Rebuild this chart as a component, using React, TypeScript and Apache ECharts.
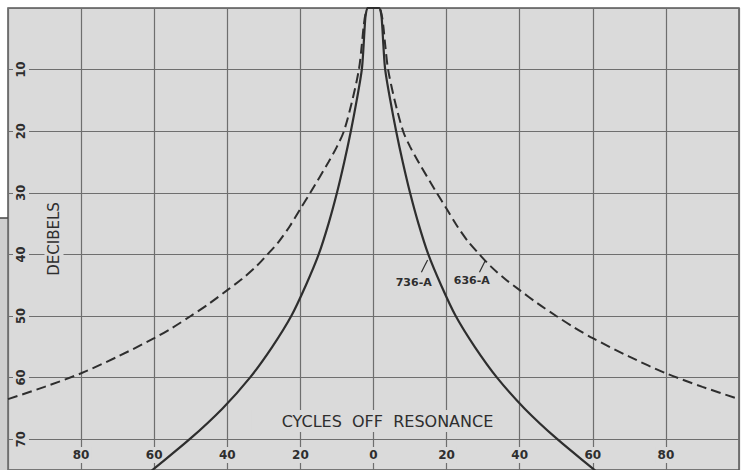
import React, { useEffect, useRef } from "react";
import * as echarts from "echarts";

// Cycles off resonance (x) and attenuation in decibels (y)
const solidX = [-62.5, -60.5, -50.3, -41.3, -33.8, -27.7, -22.5, -18.5, -15.0, -12.3, -10.0, -8.0, -6.2, -4.6, -3.2, -2.7, -2.4, -2.1, -1.5, 0, 1.5, 2.1, 2.4, 2.7, 3.2, 4.6, 6.2, 8.0, 10.0, 12.3, 15.0, 18.5, 22.5, 27.7, 33.8, 41.3, 50.3, 60.5, 62.5];
const solidDb = [76, 75, 70, 65, 60, 55, 50, 45, 40, 35, 30, 25, 20, 15, 10, 6, 3, 1, 0, 0, 0, 1, 3, 6, 10, 15, 20, 25, 30, 35, 40, 45, 50, 55, 60, 65, 70, 75, 76];

const dashedX = [-100, -90, -80, -70, -60, -55, -50, -45, -40, -36, -32, -29, -26, -23, -20, -17.3, -12.3, -10.0, -8.1, -5.8, -4.0, -3.2, -2.7, -2.2, -1.5, 0, 1.5, 2.2, 2.7, 3.2, 4.0, 5.8, 8.1, 10.0, 12.3, 17.3, 20, 23, 26, 29, 32, 36, 40, 45, 50, 55, 60, 70, 80, 90, 100];
const dashedDb = [63.5, 61.5, 59.3, 56.6, 53.6, 51.9, 50, 48, 45.8, 44, 41.9, 40, 38, 35.5, 32.6, 30, 25, 22.5, 20, 15, 10, 6, 3, 1, 0, 0, 0, 1, 3, 6, 10, 15, 20, 22.5, 25, 30, 32.6, 35.5, 38, 40, 41.9, 44, 45.8, 48, 50, 51.9, 53.6, 56.6, 59.3, 61.5, 63.5];

const seriesNames = ["736-A", "636-A"];

// annotation anchors (data coordinates): label centre, leader start, leader end
const label736 = { at: [11.0, 44.6], from: [13.1, 42.9], to: [14.8, 40.9] };
const label636 = { at: [26.9, 44.3], from: [29.0, 42.9], to: [30.6, 41.0] };

const BG = "#dadada";
const GRID = "#6e6e6e";
const INK = "#2e2e2e";
const FONT = "DejaVu Sans";

const zip = (xs: number[], ys: number[]) => xs.map((x, i) => [x, ys[i]]);

export default function App() {
  const ref = useRef<HTMLDivElement>(null);
  useEffect(() => {
    if (!ref.current) return;
    const chart = echarts.init(ref.current, undefined, { renderer: "svg" });
    const annot = (a: any, name: string) => ({
      markLine: {
        silent: true,
        symbol: ["none", "none"],
        label: { show: false },
        lineStyle: { color: INK, width: 1.2, type: "solid" },
        data: [[{ coord: a.from }, { coord: a.to }]],
      },
      markPoint: {
        silent: true,
        symbol: "rect",
        symbolSize: 1,
        itemStyle: { color: "rgba(0,0,0,0)" },
        label: {
          show: true,
          position: "inside",
          formatter: name,
          color: INK,
          fontFamily: FONT,
          fontWeight: "bold",
          fontSize: 11,
        },
        data: [{ coord: a.at }],
      },
    });
    chart.setOption({
      animation: false,
      backgroundColor: "#ffffff",
      grid: {
        left: 8,
        right: 2,
        top: 8,
        bottom: 0,
        containLabel: false,
        outerBoundsMode: "none",
        show: true,
        backgroundColor: BG,
        borderColor: "#555",
        borderWidth: 1.5,
      },
      xAxis: {
        type: "value",
        min: -100,
        max: 100,
        interval: 20,
        name: "CYCLES  OFF  RESONANCE",
        nameLocation: "middle",
        nameGap: -49,
        nameMoveOverlap: false,
        nameTextStyle: {
          color: INK,
          fontFamily: FONT,
          fontSize: 16,
          align: "center",
          verticalAlign: "middle",
          backgroundColor: BG,
          padding: [3, 2, 3, 30],
        },
        axisLine: { show: false },
        axisTick: { show: false },
        splitLine: { show: true, lineStyle: { color: GRID, width: 1.2 } },
        axisLabel: {
          inside: true,
          margin: 15,
          showMinLabel: false,
          showMaxLabel: false,
          formatter: (v: number) => String(Math.abs(v)),
          color: INK,
          fontFamily: FONT,
          fontWeight: "bold",
          fontSize: 12,
          verticalAlign: "middle",
          backgroundColor: BG,
          padding: [2, 2],
        },
      },
      yAxis: {
        type: "value",
        inverse: true,
        min: 0,
        max: 75,
        interval: 10,
        name: "DECIBELS",
        nameLocation: "middle",
        nameRotate: 90,
        nameGap: -46,
        nameMoveOverlap: false,
        nameTextStyle: {
          color: INK,
          fontFamily: FONT,
          fontSize: 15,
          align: "center",
          verticalAlign: "middle",
          backgroundColor: BG,
          padding: [2, 4],
        },
        axisLine: { show: false },
        axisTick: { show: false },
        splitLine: { show: true, lineStyle: { color: GRID, width: 1.2 } },
        axisLabel: {
          inside: true,
          rotate: 90,
          margin: 13,
          showMinLabel: false,
          showMaxLabel: false,
          color: INK,
          fontFamily: FONT,
          fontWeight: "bold",
          fontSize: 11.5,
          align: "center",
          verticalAlign: "middle",
          backgroundColor: BG,
          padding: [2, 2],
        },
      },
      series: [
        {
          name: seriesNames[0],
          type: "line",
          data: zip(solidX, solidDb),
          showSymbol: false,
          smooth: 0.3,
          lineStyle: { color: INK, width: 2.2, type: "solid" },
          ...annot(label736, seriesNames[0]),
        },
        {
          name: seriesNames[1],
          type: "line",
          data: zip(dashedX, dashedDb),
          showSymbol: false,
          smooth: 0.3,
          lineStyle: { color: INK, width: 2, type: [10, 5] },
          ...annot(label636, seriesNames[1]),
        },
      ],
      graphic: [
        { type: "rect", shape: { x: 0, y: 218, width: 7, height: 252 }, style: { fill: "#cfcfcf" }, silent: true },
        { type: "line", shape: { x1: 0, y1: 218, x2: 8, y2: 218 }, style: { stroke: "#444", lineWidth: 1.5 }, silent: true },
      ],
    });
    return () => chart.dispose();
  }, []);
  return (
    <div
      ref={ref}
      style={{ position: "absolute", left: 0, top: 0, width: 741, height: 470 }}
    />
  );
}
